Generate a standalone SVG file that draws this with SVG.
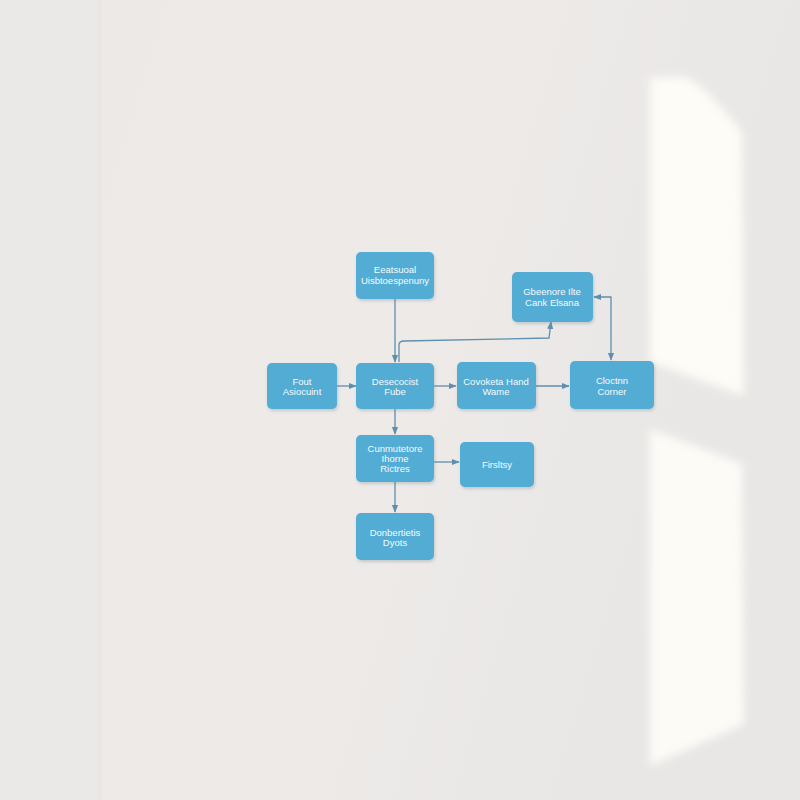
<svg xmlns="http://www.w3.org/2000/svg" width="800" height="800" viewBox="0 0 800 800">
<defs>
<linearGradient id="bg" x1="0" y1="0" x2="1" y2="0.3">
<stop offset="0" stop-color="#ece9e7"/>
<stop offset="0.6" stop-color="#edeae8"/>
<stop offset="1" stop-color="#e8e7e6"/>
</linearGradient>
<filter id="blur" x="-20%" y="-20%" width="140%" height="140%"><feGaussianBlur stdDeviation="4"/></filter>
<filter id="blur2" x="-50%" y="-20%" width="200%" height="140%"><feGaussianBlur stdDeviation="2"/></filter>
<filter id="sh" x="-20%" y="-20%" width="140%" height="150%"><feDropShadow dx="1" dy="2" stdDeviation="1.5" flood-color="#6a7f8c" flood-opacity="0.3"/></filter>
<marker id="ah" viewBox="0 0 10 10" refX="9" refY="5" markerWidth="6" markerHeight="6" orient="auto-start-reverse">
<path d="M0,1 L10,5 L0,9 z" fill="#5f8fae"/>
</marker>
<style>
.box{fill:#52acd4;filter:url(#sh)}
.t{font-family:"Liberation Sans",Arial,sans-serif;font-size:9.5px;fill:#f4fbff;text-anchor:middle}
.c{fill:none;stroke:#5f8fae;stroke-width:1.3}
</style>
</defs>
<rect width="800" height="800" fill="url(#bg)"/>
<rect x="0" y="0" width="100" height="800" fill="#ebe9e7"/>
<rect x="99" y="0" width="2" height="800" fill="#e2dfdd" filter="url(#blur2)"/>
<g filter="url(#blur)">
<path d="M650,78 L684,77 Q700,80 742,132 L744,396 L650,362 Z" fill="#fdfcf6"/>
<path d="M650,429 L742,464 L744,724 L650,766 Z" fill="#fcfbf6"/>
</g>
<g id="connectors">
<path class="c" d="M395,299 L395,362" marker-end="url(#ah)"/>
<path class="c" d="M399,362 L399,345 Q399,341 404,341 L549,338 L551,322" marker-end="url(#ah)"/>
<path class="c" d="M337,386 L356,386" marker-end="url(#ah)"/>
<path class="c" d="M434,386 L456,386" marker-end="url(#ah)"/>
<path class="c" d="M536,386 L569,386" marker-end="url(#ah)"/>
<path class="c" d="M594,297 L611,297 L611,360" marker-start="url(#ah)" marker-end="url(#ah)"/>
<path class="c" d="M395,409 L395,434" marker-end="url(#ah)"/>
<path class="c" d="M434,462 L459,462" marker-end="url(#ah)"/>
<path class="c" d="M395,482 L395,512" marker-end="url(#ah)"/>
</g>
<g id="n1"><rect class="box" x="356" y="252" width="78" height="47" rx="5"/><text class="t" x="395" y="273">Eeatsuoal</text><text class="t" x="395" y="284">Uisbtoespenuny</text></g>
<g id="n2"><rect class="box" x="267" y="363" width="70" height="46" rx="5"/><text class="t" x="302" y="385">Fout</text><text class="t" x="302" y="395">Asiocuint</text></g>
<g id="n3"><rect class="box" x="356" y="363" width="78" height="46" rx="5"/><text class="t" x="395" y="385">Desecocist</text><text class="t" x="395" y="395">Fube</text></g>
<g id="n4"><rect class="box" x="457" y="362" width="79" height="47" rx="5"/><text class="t" x="496" y="385">Covoketa Hand</text><text class="t" x="496" y="395">Wame</text></g>
<g id="n5"><rect class="box" x="570" y="361" width="84" height="48" rx="5"/><text class="t" x="612" y="384">Cloctnn</text><text class="t" x="612" y="395">Corner</text></g>
<g id="n6"><rect class="box" x="512" y="272" width="81" height="50" rx="5"/><text class="t" x="552" y="295">Gbeenore Ilte</text><text class="t" x="552" y="306">Cank Elsana</text></g>
<g id="n7"><rect class="box" x="356" y="435" width="78" height="47" rx="5"/><text class="t" x="395" y="452">Cunmutetore</text><text class="t" x="395" y="462">Ihorne</text><text class="t" x="395" y="472">Rictres</text></g>
<g id="n8"><rect class="box" x="460" y="442" width="74" height="45" rx="5"/><text class="t" x="497" y="468">Firsltsy</text></g>
<g id="n9"><rect class="box" x="356" y="513" width="78" height="47" rx="5"/><text class="t" x="395" y="536">Donbertietis</text><text class="t" x="395" y="546">Dyots</text></g>
</svg>
